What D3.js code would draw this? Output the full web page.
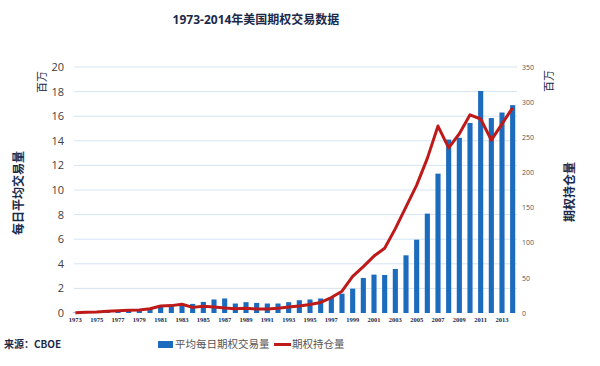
<!DOCTYPE html>
<html>
<head>
<meta charset="utf-8">
<script src="https://cdn.jsdelivr.net/npm/d3@7"></script>
<style>
  body { margin: 0; background: #fff; }
  svg text { font-family: "Open Sans", "Noto Sans CJK SC", sans-serif; }
  .cjk { font-family: "Noto Sans CJK SC", sans-serif; }
</style>
</head>
<body>
<svg id="chart" width="600" height="366"></svg>
<script>
// Data
const years = d3.range(1973, 2015);
const volume = [0.03, 0.08, 0.1, 0.13, 0.15, 0.2, 0.25, 0.4, 0.55, 0.58, 0.63,
    0.74, 0.9, 1.1, 1.18, 0.77, 0.88, 0.82, 0.77, 0.77, 0.88, 1.04, 1.1, 1.18,
    1.3, 1.57, 1.98, 2.85, 3.12, 3.09, 3.58, 4.69, 5.96, 8.08, 11.33, 14.1,
    14.25, 15.45, 18.05, 15.85, 16.3, 16.9];
const openInterest = [0.5, 1, 1.5, 2.5, 3.3, 4, 4.3, 6, 10, 10.5, 12.5,
    8, 9.5, 8.6, 7.2, 6.2, 6.7, 5.8, 5.8, 6.7, 8.6, 10, 12, 15,
    22, 31, 52, 66, 81, 92, 120, 151, 182, 220, 266, 235,
    255, 282, 276, 246, 269, 292];
const leftTicks = d3.range(0, 21, 2);
const rightTicks = d3.range(0, 351, 50);
const xLabels = years.filter(y => (y - 1973) % 2 === 0);

const svg = d3.select('#chart');
const plotL = 70, plotR = 518, plotT = 67, plotB = 313;

const x = d3.scaleBand().domain(years).range([plotL, plotR]).paddingInner(0.52).paddingOuter(0.26);
const yL = d3.scaleLinear().domain([0, 20]).range([plotB, plotT]);
const yR = d3.scaleLinear().domain([0, 350]).range([plotB, plotT]);

// Title
svg.append('text')
    .attr('x', 256).attr('y', 24)
    .attr('text-anchor', 'middle')
    .attr('font-size', 12).attr('font-weight', 'bold')
    .attr('fill', '#1b2a4a')
    .text('1973-2014年美国期权交易数据');

// Gridlines
svg.append('g').selectAll('line')
    .data(leftTicks.slice(1))
    .enter().append('line')
    .attr('x1', 74).attr('x2', 517)
    .attr('y1', d => yL(d)).attr('y2', d => yL(d))
    .attr('stroke', '#d6e4f2').attr('stroke-width', 1);

// Left axis
const gL = svg.append('g')
    .attr('transform', `translate(${plotL - 6},0)`)
    .call(d3.axisLeft(yL).tickValues(leftTicks).tickSize(0).tickPadding(0));
gL.select('.domain').remove();
gL.selectAll('text').attr('font-size', 11).attr('fill', '#404040')
    .style('font-family', '"Open Sans", sans-serif');

// Right axis
const gR = svg.append('g')
    .attr('transform', `translate(${plotR + 4},0)`)
    .call(d3.axisRight(yR).tickValues(rightTicks).tickSize(0).tickPadding(0));
gR.select('.domain').remove();
gR.selectAll('text').attr('font-size', 7).attr('fill', '#555')
    .style('font-family', '"Open Sans", sans-serif');

// X axis
const gX = svg.append('g')
    .attr('transform', `translate(0,${plotB + 4})`)
    .call(d3.axisBottom(x).tickValues(xLabels).tickSize(0).tickPadding(0));
gX.select('.domain').remove();
gX.selectAll('text').attr('font-size', 6.5).attr('fill', '#1b2a4a')
    .attr('font-weight', 'bold')
    .attr('dy', '0.71em')
    .style('font-family', '"Liberation Serif", serif');

// Bars
svg.append('g').selectAll('rect')
    .data(years)
    .enter().append('rect')
    .attr('x', d => x(d))
    .attr('width', x.bandwidth())
    .attr('y', (d, i) => yL(volume[i]))
    .attr('height', (d, i) => plotB - yL(volume[i]))
    .attr('fill', '#1d6bbd');

// Line
const line = d3.line()
    .x((d, i) => x(years[i]) + x.bandwidth() / 2)
    .y(d => yR(d));
svg.append('path')
    .datum(openInterest)
    .attr('d', line)
    .attr('fill', 'none')
    .attr('stroke', '#be1a1a')
    .attr('stroke-width', 3)
    .attr('stroke-linejoin', 'round');

// Axis titles
function vText(tx, ty, rot, txt, size, weight, color) {
    svg.append('text')
        .attr('class', 'cjk')
        .attr('transform', `translate(${tx},${ty}) rotate(${rot})`)
        .attr('text-anchor', 'middle')
        .attr('dominant-baseline', 'central')
        .attr('font-size', size).attr('font-weight', weight)
        .attr('fill', color)
        .text(txt);
}
vText(41, 82, -90, '百万', 11, 'normal', '#1b2a4a');
vText(17, 193, -90, '每日平均交易量', 12, 'bold', '#1b2a4a');
vText(548, 81, -90, '百万', 11, 'normal', '#1b2a4a');
vText(568, 192, -90, '期权持仓量', 12, 'bold', '#1b2a4a');

// Source
svg.append('text')
    .attr('x', 4).attr('y', 348)
    .attr('font-size', 10).attr('font-weight', 'bold')
    .attr('fill', '#1b2a4a')
    .attr('class', 'cjk')
    .text('来源：CBOE');

// Legend
const lg = svg.append('g');
lg.append('rect').attr('x', 158).attr('y', 341).attr('width', 15).attr('height', 7).attr('fill', '#1d6bbd');
lg.append('text').attr('class', 'cjk').attr('x', 175).attr('y', 348)
    .attr('font-size', 10.5).attr('fill', '#555').text('平均每日期权交易量');
lg.append('line').attr('x1', 274).attr('x2', 291).attr('y1', 344.5).attr('y2', 344.5)
    .attr('stroke', '#be1a1a').attr('stroke-width', 3);
lg.append('text').attr('class', 'cjk').attr('x', 292).attr('y', 348)
    .attr('font-size', 10.5).attr('fill', '#555').text('期权持仓量');
</script>
</body>
</html>
